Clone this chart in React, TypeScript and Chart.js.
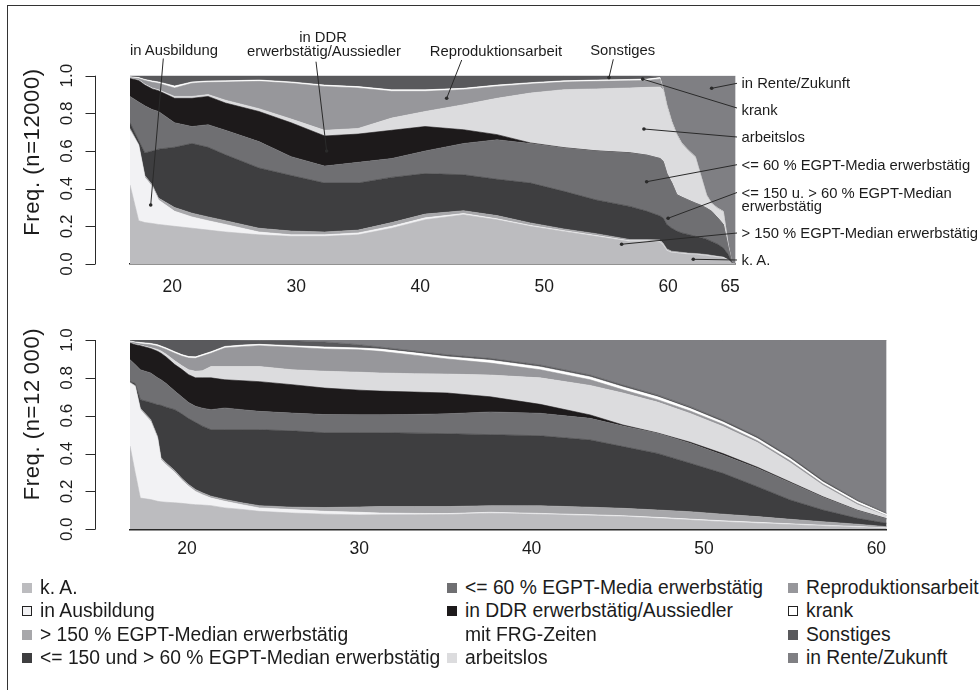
import React, { useEffect, useRef } from "react";
import { Chart, registerables } from "chart.js";

Chart.register(...registerables);

const FONT = "'Liberation Sans', Arial, Helvetica, sans-serif";
const INK = "#1c1c1c";

// ---- states (bottom to top of the stack) ----
const STATE_LABELS = [
  "k. A.",
  "in Ausbildung",
  "> 150 % EGPT-Median erwerbstätig",
  "<= 150 und > 60 % EGPT-Median erwerbstätig",
  "<= 60 % EGPT-Media erwerbstätig",
  "in DDR erwerbstätig/Aussiedler mit FRG-Zeiten",
  "arbeitslos",
  "Reproduktionsarbeit",
  "krank",
  "Sonstiges",
  "in Rente/Zukunft",
];
const STATE_COLORS = [
  "#bcbcbf", "#f2f2f4", "#a7a7aa", "#3e3e40", "#6f6f72", "#1d1a1b",
  "#dcdcde", "#97979b", "#ffffff", "#59595c", "#7f7f83",
];

// ---- upper chart: age 17-65 ----
const TOP_AGES = [16.6, 17.3, 17.8, 18.4, 18.9, 20.2, 21.6, 22.9, 24.3, 27, 29.6, 32.3, 35, 37.7, 40.4, 43.5, 46.2, 48.9, 51.6, 54.2, 56.9, 58.3, 59.35, 59.6, 59.9, 60.3, 60.7, 61.1, 61.6, 62.2, 62.7, 63.1, 63.5, 64.0, 64.45, 64.85, 65.15, 65.45];
const TOP_KA = [.42, .23, .22, .215, .21, .20, .19, .18, .17, .155, .147, .147, .155, .19, .235, .262, .235, .20, .173, .147, .12, .12, .115, .10, .07, .06, .058, .055, .052, .05, .047, .044, .04, .036, .032, .02, .002, 0];
const TOP_AUSB = [.29, .40, .24, .195, .13, .08, .06, .05, .04, .015, .008, .008, .01, .01, .01, .006, .005, .005, .004, .004, .003, .003, .003, .003, .003, .002, .002, .002, .002, .002, .002, .002, .002, .002, .002, .001, 0, 0];
const TOP_GT150 = [.01, .005, .01, .01, .01, .02, .02, .02, .02, .02, .02, .015, .015, .02, .02, .015, .017, .013, .009, .01, .007, .007, .01, .007, .007, .006, .005, .005, .004, .004, .004, .004, .004, .003, .003, .002, 0, 0];
const TOP_MID = [.03, .02, .12, .18, .26, .32, .37, .37, .35, .32, .295, .26, .25, .24, .215, .191, .193, .212, .20, .179, .176, .15, .127, .134, .13, .122, .11, .103, .099, .091, .087, .082, .074, .064, .048, .027, .002, 0];
const TOP_LE60 = [.14, .205, .25, .22, .20, .13, .09, .12, .13, .14, .10, .09, .11, .10, .12, .166, .21, .21, .23, .26, .284, .297, .305, .301, .27, .24, .193, .19, .183, .176, .17, .164, .16, .14, .125, .035, .001, 0];
const TOP_DDR = [.095, .115, .11, .11, .11, .13, .15, .15, .145, .16, .18, .16, .15, .15, .13, .073, .027, .003, .002, .001, .001, .001, 0, 0, 0, 0, 0, 0, 0, 0, 0, 0, 0, 0, 0, 0, 0, 0];
const TOP_ALOS = [.002, .003, .005, .005, .005, .01, .01, .01, .015, .015, .02, .03, .03, .065, .08, .133, .193, .265, .308, .329, .344, .36, .38, .38, .358, .32, .316, .282, .262, .243, .143, .068, .04, .048, .066, .016, 0, 0];
const TOP_REPRO = [.003, .007, .02, .03, .035, .045, .07, .065, .096, .145, .19, .233, .215, .142, .107, .08, .063, .048, .04, .04, .038, .037, .043, .003, .002, .002, .002, .002, .002, .002, .002, .002, .002, .002, .002, .001, 0, 0];
const TOP_KRANK = [.005, .005, .005, .007, .007, .01, .007, .007, .007, .007, .007, .007, .007, .008, .008, .007, .007, .007, .007, .007, .007, .007, .007, .007, .006, .005, .004, .003, .003, .002, .002, .002, .002, .002, .002, .001, 0, 0];
const TOP_SONST = [.005, .01, .02, .028, .033, .055, .033, .028, .027, .023, .033, .05, .058, .075, .075, .067, .05, .037, .027, .023, .02, .018, .005, 0, 0, 0, 0, 0, 0, 0, 0, 0, 0, 0, 0, 0, 0, 0];
const TOP_RENTE = [0, 0, 0, 0, 0, 0, 0, 0, 0, 0, 0, 0, 0, 0, 0, 0, 0, 0, 0, 0, 0, 0, .005, .065, .154, .243, .31, .358, .393, .43, .543, .632, .676, .703, .72, .897, .995, 1];

// ---- lower chart: age 17-60 ----
const BOT_AGES = [16.7, 17.0, 17.3, 17.9, 18.3, 18.5, 18.8, 19.3, 19.7, 20.1, 20.5, 20.9, 21.4, 22.2, 23.2, 24.2, 26.1, 28.0, 30.0, 31.2, 33.2, 35.1, 37.6, 40.5, 43.4, 45.3, 47.3, 49.2, 51.1, 53.1, 55.0, 56.9, 58.9, 60.6];
const BOT_KA = [.44, .30, .165, .157, .148, .145, .143, .14, .137, .133, .13, .128, .125, .113, .105, .095, .086, .08, .076, .077, .077, .078, .085, .079, .072, .067, .058, .049, .04, .032, .025, .018, .011, .005];
const BOT_AUSB = [.333, .455, .467, .413, .332, .223, .197, .16, .123, .094, .07, .055, .04, .035, .025, .018, .018, .015, .014, .009, .007, .005, .005, .005, .005, .005, .005, .005, .005, .005, .004, .004, .004, .003];
const BOT_GT150 = [.003, .005, .008, .01, .01, .01, .01, .01, .01, .01, .01, .01, .01, .01, .01, .012, .013, .02, .028, .034, .036, .037, .035, .04, .04, .039, .039, .039, .035, .03, .024, .018, .012, .006];
const BOT_MID = [.004, .01, .045, .09, .168, .277, .295, .322, .34, .348, .355, .352, .351, .368, .386, .401, .403, .395, .392, .39, .388, .385, .375, .37, .355, .326, .299, .256, .216, .158, .102, .062, .031, .018];
const BOT_LE60 = [.116, .10, .158, .156, .142, .135, .125, .098, .09, .085, .085, .095, .106, .115, .106, .097, .094, .096, .095, .095, .099, .105, .12, .119, .114, .109, .106, .105, .097, .097, .091, .067, .041, .023];
const BOT_DDR = [.088, .105, .127, .129, .14, .14, .14, .14, .145, .147, .15, .16, .168, .149, .153, .157, .15, .14, .13, .125, .118, .11, .08, .047, .018, .005, .002, .006, .007, .006, .004, .003, .002, .001];
const BOT_ALOS = [.002, .003, .003, .005, .01, .012, .015, .02, .02, .026, .035, .038, .06, .07, .075, .08, .079, .089, .095, .096, .097, .10, .115, .14, .156, .169, .163, .152, .143, .13, .102, .06, .029, .014];
const BOT_REPRO = [.004, .007, .007, .015, .017, .018, .025, .04, .05, .062, .068, .077, .07, .098, .105, .11, .119, .118, .118, .114, .098, .08, .063, .043, .03, .017, .013, .013, .012, .01, .01, .008, .007, .002];
const BOT_KRANK = [.005, .005, .007, .007, .008, .008, .008, .008, .008, .008, .008, .008, .008, .008, .008, .007, .008, .01, .01, .012, .012, .012, .015, .015, .015, .015, .015, .013, .012, .012, .012, .01, .01, .007];
const BOT_SONST = [.005, .01, .013, .018, .025, .032, .042, .062, .077, .087, .089, .077, .062, .034, .026, .021, .026, .027, .017, .011, .01, .01, .01, .01, .01, .01, .01, .01, .01, .01, .01, .01, .008, .006];
const BOT_RENTE = [0, 0, 0, 0, 0, 0, 0, 0, 0, 0, 0, 0, 0, 0, .001, .002, .004, .01, .025, .037, .058, .078, .097, .132, .185, .238, .29, .352, .423, .51, .616, .74, .845, .915];

const TOP_SERIES = [TOP_KA, TOP_AUSB, TOP_GT150, TOP_MID, TOP_LE60, TOP_DDR, TOP_ALOS, TOP_REPRO, TOP_KRANK, TOP_SONST, TOP_RENTE];
const BOT_SERIES = [BOT_KA, BOT_AUSB, BOT_GT150, BOT_MID, BOT_LE60, BOT_DDR, BOT_ALOS, BOT_REPRO, BOT_KRANK, BOT_SONST, BOT_RENTE];

// ---- ticks ----
const TOP_X_TICKS = [20, 30, 40, 50, 60, 65];
const BOT_X_TICKS = [20, 30, 40, 50, 60];
const Y_TICKS = [0, 0.2, 0.4, 0.6, 0.8, 1.0];

// ---- annotations of the upper chart (leader line start in px, target in data units) ----
const TOP_LEADERS = [
  { from: [163.3, 58.5], age: 18.27, share: 0.313 },
  { from: [316, 61.7], age: 32.46, share: 0.60 },
  { from: [461.7, 60], age: 42.14, share: 0.88 },
  { from: [613.3, 59.3], age: 55.23, share: 0.99 },
  { from: [737, 83.3], age: 63.51, share: 0.933 },
  { from: [737, 108], age: 57.95, share: 0.982 },
  { from: [737, 137], age: 58.05, share: 0.717 },
  { from: [737, 164.7], age: 58.27, share: 0.437 },
  { from: [737, 192.5], age: 60.0, share: 0.243 },
  { from: [737, 233], age: 56.25, share: 0.105 },
  { from: [737, 260], age: 62.03, share: 0.025 },
];
const TOP_NOTES = [
  { text: "in Ausbildung", x: 174, y: 50, c: true },
  { text: "in DDR", x: 323, y: 36.5, c: true },
  { text: "erwerbstätig/Aussiedler", x: 324, y: 50.5, c: true },
  { text: "Reproduktionsarbeit", x: 496, y: 50.5, c: true },
  { text: "Sonstiges", x: 622.7, y: 50, c: true },
  { text: "in Rente/Zukunft", x: 741.5, y: 82.5, c: false },
  { text: "krank", x: 741.5, y: 109.5, c: false },
  { text: "arbeitslos", x: 741.5, y: 137, c: false },
  { text: "<= 60 % EGPT-Media erwerbstätig", x: 741.5, y: 164.7, c: false },
  { text: "<= 150 u. > 60 % EGPT-Median", x: 741.5, y: 192.5, c: false },
  { text: "erwerbstätig", x: 741.5, y: 205.8, c: false },
  { text: "> 150 % EGPT-Median erwerbstätig", x: 741.5, y: 233, c: false },
  { text: "k. A.", x: 741.5, y: 260, c: false },
];

const LEGEND_ROW_Y = [587.5, 611, 634.5, 658];
const LEGEND_ENTRIES = [
  { x: 22, row: 0, s: 0, text: "k. A." },
  { x: 22, row: 1, s: 1, text: "in Ausbildung" },
  { x: 22, row: 2, s: 2, text: "> 150 % EGPT-Median erwerbstätig" },
  { x: 22, row: 3, s: 3, text: "<= 150 und > 60 % EGPT-Median erwerbstätig" },
  { x: 447, row: 0, s: 4, text: "<= 60 % EGPT-Media erwerbstätig" },
  { x: 447, row: 1, s: 5, text: "in DDR erwerbstätig/Aussiedler" },
  { x: 447, row: 2, s: -1, text: "mit FRG-Zeiten" },
  { x: 447, row: 3, s: 6, text: "arbeitslos" },
  { x: 788, row: 0, s: 7, text: "Reproduktionsarbeit" },
  { x: 788, row: 1, s: 8, text: "krank" },
  { x: 788, row: 2, s: 9, text: "Sonstiges" },
  { x: 788, row: 3, s: 10, text: "in Rente/Zukunft" },
];

const AXIS_X = 95.5;
const PLOT_LEFT = 130;

const rAxisPlugin = {
  id: "rAxis",
  afterDraw(chart: any) {
    const y = chart.scales.y;
    const ctx = chart.ctx;
    ctx.save();
    ctx.strokeStyle = "#2a2a2a";
    ctx.lineWidth = 1;
    ctx.beginPath();
    ctx.moveTo(AXIS_X, y.getPixelForValue(Y_TICKS[0]));
    ctx.lineTo(AXIS_X, y.getPixelForValue(Y_TICKS[Y_TICKS.length - 1]));
    Y_TICKS.forEach((v) => {
      const py = Math.round(y.getPixelForValue(v)) + 0.5;
      ctx.moveTo(AXIS_X, py);
      ctx.lineTo(AXIS_X - 10, py);
    });
    ctx.stroke();
    ctx.restore();
  },
};

const leaderPlugin = {
  id: "leaders",
  afterDraw(chart: any) {
    const { ctx, scales } = chart;
    ctx.save();
    ctx.strokeStyle = "#2a2a2a";
    ctx.fillStyle = "#2a2a2a";
    ctx.lineWidth = 1;
    TOP_LEADERS.forEach((l) => {
      const px = scales.x.getPixelForValue(l.age);
      const py = scales.y.getPixelForValue(l.share);
      ctx.beginPath();
      ctx.moveTo(l.from[0], l.from[1]);
      ctx.lineTo(px, py);
      ctx.stroke();
      ctx.beginPath();
      ctx.arc(px, py, 1.8, 0, Math.PI * 2);
      ctx.fill();
    });
    ctx.restore();
  },
};

function buildConfig(o: any): any {
  return {
    type: "line",
    data: {
      datasets: o.series.map((vals: number[], i: number) => ({
        label: STATE_LABELS[i],
        data: o.ages.map((a: number, j: number) => ({ x: a, y: vals[j] })),
        backgroundColor: STATE_COLORS[i],
        borderColor: STATE_COLORS[i],
        borderWidth: 0.6,
        pointRadius: 0,
        tension: 0,
        fill: i === 0 ? "origin" : "-1",
      })),
    },
    options: {
      responsive: false,
      maintainAspectRatio: false,
      animation: false,
      events: [],
      layout: { padding: { left: 0, top: o.padTop, right: o.padRight, bottom: 0 } },
      plugins: { legend: { display: false }, tooltip: { enabled: false }, title: { display: false } },
      scales: {
        x: {
          type: "linear",
          min: o.xMin,
          max: o.xMax,
          afterBuildTicks: (s: any) => { s.ticks = o.xTicks.map((v: number) => ({ value: v })); },
          afterFit: (s: any) => { s.height = o.xAxisH; s.paddingLeft = 0; s.paddingRight = 0; },
          grid: { display: false, drawTicks: false },
          border: { display: true, color: "#262626", width: 1.5 },
          ticks: {
            autoSkip: false, maxRotation: 0, minRotation: 0, padding: o.xPad,
            color: INK, font: { family: FONT, size: 17.5 },
            callback: (v: any) => String(v),
          },
        },
        y: {
          type: "linear",
          min: 0,
          max: 1,
          stacked: true,
          afterBuildTicks: (s: any) => { s.ticks = Y_TICKS.map((v) => ({ value: v })); },
          afterFit: (s: any) => { s.width = PLOT_LEFT; s.paddingTop = 0; s.paddingBottom = 0; },
          grid: { display: false, drawTicks: false },
          border: { display: false },
          ticks: {
            minRotation: 90, maxRotation: 90, crossAlign: "center", padding: 51,
            color: INK, font: { family: FONT, size: 17 },
            callback: (v: any) => Number(v).toFixed(1),
          },
        },
      },
    },
    plugins: [rAxisPlugin, ...(o.extra || [])],
  };
}

function StackChart(props: any) {
  const ref = useRef<HTMLCanvasElement>(null);
  useEffect(() => {
    const chart = new Chart(ref.current as HTMLCanvasElement, buildConfig(props));
    return () => chart.destroy();
  }, []);
  return (
    <canvas
      ref={ref}
      width={props.width}
      height={props.height}
      style={{ position: "absolute", left: 0, top: props.top, width: props.width, height: props.height }}
    />
  );
}

const textBase: any = { position: "absolute", fontFamily: FONT, color: INK, whiteSpace: "nowrap", lineHeight: 1 };

export default function App() {
  return (
    <div style={{ position: "fixed", left: 0, top: 0, width: 980, height: 690, overflow: "hidden", background: "#fff" }}>
      <div style={{ position: "absolute", left: 7, top: 5, width: 1000, height: 720, border: "1px solid #333", boxSizing: "border-box" }} />

      <StackChart
        top={0} width={980} height={300}
        ages={TOP_AGES} series={TOP_SERIES}
        xMin={16.6} xMax={65.45} xTicks={TOP_X_TICKS}
        padTop={75.7} padRight={244.3} xAxisH={36} xPad={13}
        extra={[leaderPlugin]}
      />
      <StackChart
        top={300} width={980} height={270}
        ages={BOT_AGES} series={BOT_SERIES}
        xMin={16.7} xMax={60.6} xTicks={BOT_X_TICKS}
        padTop={40} padRight={93.3} xAxisH={40.7} xPad={9}
      />

      <div style={{ ...textBase, left: 32, top: 152, fontSize: 22, letterSpacing: 0.6, transform: "translate(-50%,-50%) rotate(-90deg)" }}>
        Freq. (n=12000)
      </div>
      <div style={{ ...textBase, left: 32, top: 414, fontSize: 22, letterSpacing: 0.6, transform: "translate(-50%,-50%) rotate(-90deg)" }}>
        Freq. (n=12{"\u2009"}000)
      </div>

      {TOP_NOTES.map((n, i) => (
        <div
          key={"n" + i}
          style={{ ...textBase, left: n.x, top: n.y, fontSize: 14.8, transform: n.c ? "translate(-50%,-50%)" : "translate(0,-50%)" }}
        >
          {n.text}
        </div>
      ))}

      {LEGEND_ENTRIES.map((e, i) => (
        <React.Fragment key={"l" + i}>
          {e.s >= 0 && (
            <div
              style={{
                position: "absolute", left: e.x, top: LEGEND_ROW_Y[e.row] - 5, width: 10, height: 10,
                background: STATE_COLORS[e.s], boxSizing: "border-box",
                border: STATE_COLORS[e.s] === "#ffffff" || e.s === 1 ? "1px solid #222" : "none",
              }}
            />
          )}
          <div style={{ ...textBase, left: e.x + 18, top: LEGEND_ROW_Y[e.row], fontSize: 19.3, transform: "translate(0,-50%)" }}>
            {e.text}
          </div>
        </React.Fragment>
      ))}
    </div>
  );
}
